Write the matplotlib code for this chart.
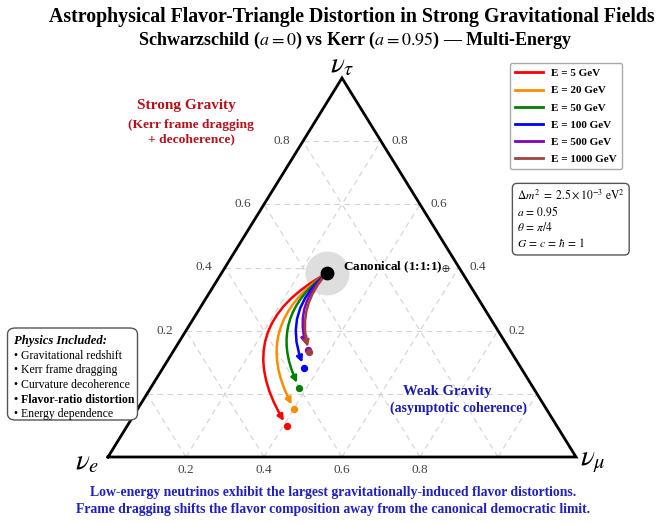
import numpy as np
import matplotlib
matplotlib.use('Agg')
import matplotlib.pyplot as plt
from matplotlib.lines import Line2D
from matplotlib.patches import FancyBboxPatch

plt.rcParams['font.family'] = ['Liberation Serif', 'DejaVu Serif']
plt.rcParams['mathtext.fontset'] = 'stix'

# ---------------- data ----------------
H = np.sqrt(3) / 2
energies = [5, 20, 50, 100, 500, 1000]
colors = ['#ff0000', '#ff8c00', '#008000', '#0000ff', '#7f00bf', '#a0413f']
canonical = (0.4673, 0.4197)
end_x = [0.3818, 0.3981, 0.4088, 0.4194, 0.4263, 0.4301]
end_y = [0.0715, 0.1090, 0.1583, 0.2040, 0.2456, 0.2392]
curvature = [0.53, 0.46, 0.42, 0.37, 0.32, 0.28]
grid_levels = [1/6, 2/6, 3/6, 4/6, 5/6]
side_tick_levels = [2/6, 3/6, 4/6, 5/6]
bottom_tick_levels = [1/6, 2/6, 3/6, 4/6]
tick_labels = ['0.2', '0.4', '0.6', '0.8']
physics_items = ['Gravitational redshift', 'Kerr frame dragging', 'Curvature decoherence',
                 'Flavor-ratio distortion', 'Energy dependence']

W, Hpx = 664, 523
fig = plt.figure(figsize=(W / 100, Hpx / 100), dpi=100)
ax = fig.add_axes([0, 0, 1, 1])
sx = 468.0
sy = 379.0 / H
ax.set_xlim(-108 / sx, (W - 108) / sx)
ax.set_ylim(-(Hpx - 457) / sy, 457 / sy)
ax.axis('off')

def fx(px):
    return px / W

def fy(py):
    return 1 - py / Hpx

# grid
gkw = dict(color='#d2d2d2', lw=0.8, ls=(0, (5, 4)), zorder=1)
for f in grid_levels:
    ax.plot([f / 2, 1 - f / 2], [f * H, f * H], **gkw)
    ax.plot([f, f + (1 - f) / 2], [0, (1 - f) * H], **gkw)
    ax.plot([f, f / 2], [0, f * H], **gkw)

# triangle
ax.plot([0, 1, 0.5, 0], [0, 0, H, 0], color='black', lw=2, zorder=3, solid_joinstyle='miter')

# tick labels
for f, t in zip(side_tick_levels, tick_labels):
    ax.text(f / 2 - 0.045, f * H, t, ha='center', va='center', fontsize=9.5, color='#444444')
    ax.text(1 - f / 2 + 0.040, f * H, t, ha='center', va='center', fontsize=9.5, color='#444444')
for f, t in zip(bottom_tick_levels, tick_labels):
    ax.text(f, -13 / sy, t, ha='center', va='center', fontsize=9.5, color='#444444')

# vertex labels
ax.text(-21 / sx, -5 / sy, r'$\nu_e$', ha='center', va='center', fontsize=21)
ax.text(1 + 17 / sx, -5 / sy, r'$\nu_\mu$', ha='center', va='center', fontsize=21)
ax.text(0.5, H + 13 / sy, r'$\nu_\tau$', ha='center', va='center', fontsize=21)

# canonical halo and point
ax.scatter([canonical[0]], [canonical[1]], s=1000, color='#dedede', zorder=2, linewidths=0)

# trajectories
for e, c, x, y, r in zip(energies, colors, end_x, end_y, curvature):
    ax.annotate('', xy=(x, y), xytext=canonical,
                arrowprops=dict(arrowstyle='-|>', color=c, lw=1.8,
                                connectionstyle=f'arc3,rad={r}',
                                mutation_scale=9, shrinkA=0, shrinkB=4),
                zorder=4)
    ax.scatter([x], [y], s=28, color=c, zorder=5, linewidths=0)

ax.scatter([canonical[0]], [canonical[1]], s=80, color='black', zorder=6)
ax.text(canonical[0] + 16 / sx, canonical[1] + 6 / sy, r'Canonical (1:1:1)$_{\oplus}$',
        ha='left', va='center', fontsize=9.5, fontweight='bold')

# region labels
red = '#b5121b'
ax.text(fx(186), fy(105), 'Strong Gravity', transform=fig.transFigure, ha='center', va='center',
        fontsize=11, fontweight='bold', color=red)
ax.text(fx(191), fy(132), '(Kerr frame dragging\n+ decoherence)', transform=fig.transFigure,
        ha='center', va='center', fontsize=9.7, fontweight='bold', color=red, linespacing=1.3)
blue = '#1c1cb0'
ax.text(fx(447), fy(392), 'Weak Gravity', transform=fig.transFigure, ha='center', va='center',
        fontsize=10.5, fontweight='bold', color=blue)
ax.text(fx(458), fy(408), '(asymptotic coherence)', transform=fig.transFigure, ha='center', va='center',
        fontsize=10, fontweight='bold', color=blue)

# legend
handles = [Line2D([0], [0], color=c, lw=2) for c in colors]
labels = [f'E = {e} GeV' for e in energies]
leg = ax.legend(handles, labels, loc='upper right', bbox_to_anchor=(fx(622), fy(63)),
                bbox_transform=fig.transFigure, borderaxespad=0, fancybox=True,
                prop={'weight': 'bold', 'size': 8, 'family': 'Liberation Serif'},
                handlelength=2.5, handletextpad=0.7, labelspacing=0.66, borderpad=0.5,
                framealpha=1, edgecolor='#aaaaaa')
leg.get_frame().set_linewidth(1.0)

# parameter box
params = (r'$\Delta m^2\ =\ 2.5\times10^{-3}\ \mathrm{eV}^2$' + '\n' + r'$a\,=\,0.95$' + '\n'
          + r'$\theta\,=\,\pi/4$' + '\n' + r'$G\,=\,c\,=\,\hbar\,=\,1$')
fig.text(fx(517), fy(188), params, ha='left', va='top', fontsize=8.3, linespacing=1.3,
         bbox=dict(boxstyle='round,pad=0.4', fc='white', ec='#555555', lw=1.0))

# physics box
box = FancyBboxPatch((fx(7.5), fy(420)), fx(137.5) - fx(7.5), fy(328) - fy(420),
                     boxstyle='round,pad=0,rounding_size=0.012', transform=fig.transFigure,
                     fc='white', ec='#555555', lw=1.0, zorder=7)
fig.patches.append(box)
fig.text(fx(14), fy(341), 'Physics Included:', ha='left', va='center', fontsize=9.1,
         fontweight='bold', fontstyle='italic', zorder=8)
for i, item in enumerate(physics_items):
    fig.text(fx(14), fy(355.7 + 14.7 * i), '\u2022 ' + item, ha='left', va='center', fontsize=8.5,
             fontweight='bold' if item.startswith('Flavor') else 'normal', zorder=8)

# titles
fig.text(0.530, fy(17), 'Astrophysical Flavor-Triangle Distortion in Strong Gravitational Fields',
         ha='center', va='center', fontsize=14.3, fontweight='bold')
fig.text(0.5347, fy(40), r'Schwarzschild ($a = 0$) vs Kerr ($a = 0.95$) — Multi-Energy',
         ha='center', va='center', fontsize=13, fontweight='bold')

# caption
cap = '#2020bf'
fig.text(0.5015, fy(492.5), 'Low-energy neutrinos exhibit the largest gravitationally-induced flavor distortions.',
         ha='center', va='center', fontsize=9.9, fontweight='bold', color=cap)
fig.text(0.5015, fy(510), 'Frame dragging shifts the flavor composition away from the canonical democratic limit.',
         ha='center', va='center', fontsize=9.9, fontweight='bold', color=cap)

fig.savefig('out.png', dpi=100)
